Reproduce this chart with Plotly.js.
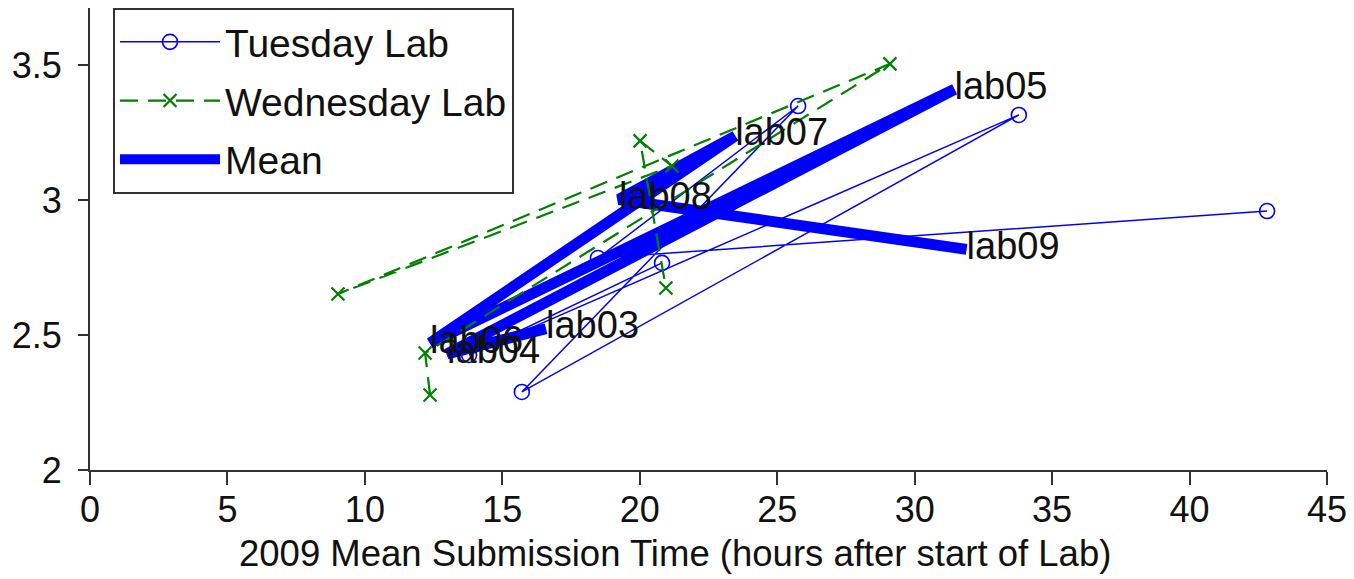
<!DOCTYPE html>
<html>
<head>
<meta charset="utf-8">
<script src="https://cdn.plot.ly/plotly-3.0.1.min.js"></script>
<style>html,body{margin:0;padding:0;background:#fff;}#chart{width:1354px;height:579px;}</style>
</head>
<body>
<div id="chart"></div>
<script>
// Lab names (in plotting order)
const labs = ['lab03', 'lab04', 'lab05', 'lab06', 'lab07', 'lab08', 'lab09'];

// Tuesday Lab: mean submission time (h) and score
const tueX = [20.81, 13.79, 33.79, 15.71, 25.76, 18.48, 42.82];
const tueY = [2.767, 2.426, 3.315, 2.289, 3.348, 2.785, 2.959];

// Wednesday Lab
const wedX = [12.37, 12.19, 29.10, 9.02, 21.17, 20.01, 20.95];
const wedY = [2.278, 2.433, 3.504, 2.652, 3.126, 3.219, 2.674];

// Mean of both labs
const meanX = [16.59, 12.99, 31.45, 12.37, 23.47, 19.24, 31.89];
const meanY = [2.523, 2.430, 3.410, 2.470, 3.237, 3.002, 2.817];

const seriesNames = ['Tuesday Lab', 'Wednesday Lab', 'Mean'];
const xTitle = '2009 Mean Submission Time (hours after start of Lab)';

const FONT = '"Liberation Sans", Arial, Helvetica, sans-serif';

const traces = [
  {
    x: meanX, y: meanY, name: seriesNames[2], mode: 'lines',
    line: {color: '#0000ff', width: 11},
    legendgroup: 'g3', legendrank: 3
  },
  {
    x: tueX, y: tueY, name: seriesNames[0], mode: 'lines+markers',
    line: {color: '#0000ff', width: 1.5},
    marker: {symbol: 'circle-open', size: 15, color: '#0000ff', line: {width: 1.6, color: '#0000ff'}},
    legendgroup: 'g1', legendrank: 1
  },
  {
    x: wedX, y: wedY, name: seriesNames[1], mode: 'lines+markers',
    line: {color: '#008000', width: 2.2, dash: '18px,10px'},
    marker: {symbol: 'x-thin-open', size: 13, color: '#008000', line: {width: 2.2, color: '#008000'}},
    legendgroup: 'g2', legendrank: 2
  },
  {
    x: meanX, y: meanY, mode: 'text', text: labs, textposition: 'middle right',
    textfont: {family: FONT, size: 38, color: '#111'},
    showlegend: false, hoverinfo: 'skip'
  }
];

const layout = {
  width: 1354, height: 579,
  margin: {l: 90, r: 27, t: 8, b: 109, pad: 0},
  paper_bgcolor: '#fff', plot_bgcolor: '#fff',
  font: {family: FONT, size: 36, color: '#111'},
  showlegend: true,
  legend: {
    x: 0.0186, y: 1, xanchor: 'left', yanchor: 'top',
    bgcolor: '#fff', bordercolor: '#333', borderwidth: 2,
    font: {family: FONT, size: 39, color: '#111'},
    itemwidth: 100, tracegroupgap: 5, traceorder: 'grouped'
  },
  xaxis: {
    range: [0, 45], tick0: 0, dtick: 5, ticks: 'outside', ticklen: 13, tickwidth: 2, tickcolor: '#333',
    showline: true, linewidth: 2, linecolor: '#333', showgrid: false, zeroline: false,
    tickfont: {family: FONT, size: 36, color: '#111'}, ticklabelstandoff: -6, mirror: false
  },
  yaxis: {
    range: [2, 3.711], tick0: 2, dtick: 0.5, ticks: 'outside', ticklen: 10, tickwidth: 2, tickcolor: '#333',
    showline: true, linewidth: 2, linecolor: '#333', showgrid: false, zeroline: false,
    tickfont: {family: FONT, size: 36, color: '#111'}, ticklabelstandoff: 9, mirror: false
  },
  annotations: [{
    text: xTitle, xref: 'paper', yref: 'paper', x: 0.473, y: -0.18,
    xanchor: 'center', yanchor: 'middle', showarrow: false,
    font: {family: FONT, size: 36.5, color: '#111'}
  }]
};

Plotly.newPlot('chart', traces, layout, {staticPlot: true, displayModeBar: false});
</script>
</body>
</html>
